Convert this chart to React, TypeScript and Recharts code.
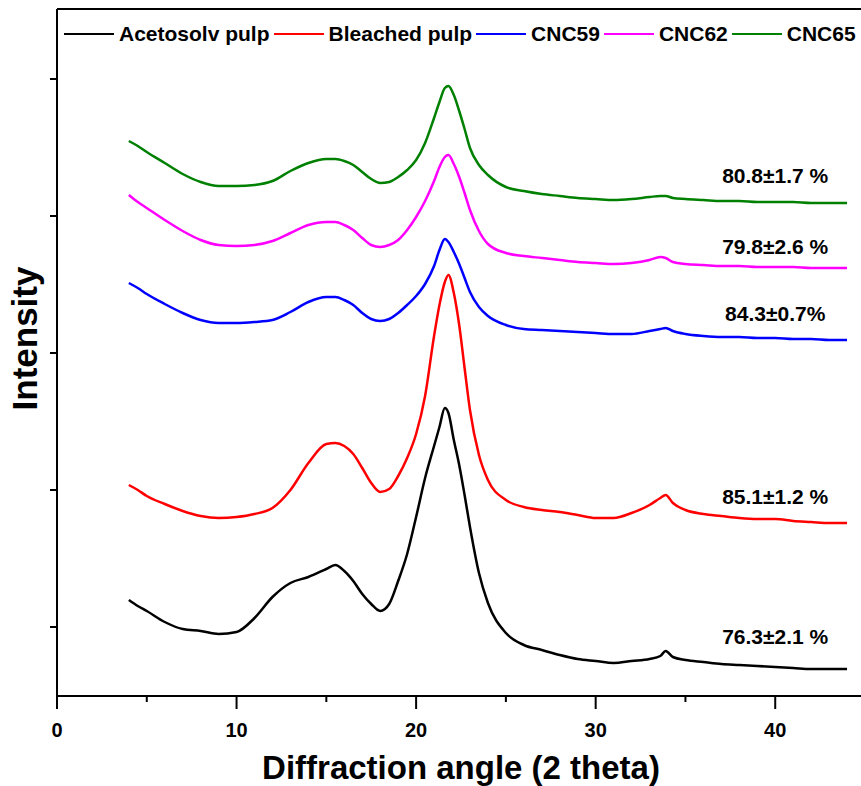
import {
	LineChart,
	Line,
	XAxis,
	YAxis,
	Legend,
	ReferenceDot,
	ReferenceLine,
} from "recharts";

const FONT = "'Liberation Sans', Arial, Helvetica, sans-serif";

// 2 theta (degrees)
const twoTheta = [
	4, 4.5, 5, 6, 7, 8, 9, 10, 11, 12, 13, 14, 15, 15.5, 16, 16.5, 17, 17.5, 18,
	18.5, 19, 19.5, 20, 20.5, 21, 21.3, 21.6, 21.8, 22.1, 22.4, 22.7, 23, 23.5,
	24, 25, 26, 27, 28, 29, 30, 31, 32, 33, 33.6, 33.9, 34.3, 35, 36, 37, 38, 39,
	40, 41, 42, 43, 44,
];

// intensity (a.u., curves stacked with offsets as in the figure)
const acetosolv = [
	960, 900, 850, 740, 670, 650, 620, 640, 780, 990, 1130, 1190, 1270, 1310,
	1250, 1150, 1020, 920, 850, 920, 1150, 1420, 1790, 2180, 2500, 2690, 2880,
	2830, 2560, 2310, 2010, 1690, 1230, 930, 630, 510, 460, 410, 370, 350, 330,
	350, 370, 400, 450, 390, 360, 340, 320, 310, 300, 290, 280, 270, 270, 270,
];
const bleached = [
	2110, 2060, 2000, 1920, 1850, 1800, 1780, 1790, 1820, 1880, 2060, 2330, 2520,
	2530, 2500, 2420, 2280, 2130, 2040, 2070, 2200, 2380, 2620, 3000, 3600, 3910,
	4140, 4210, 4030, 3710, 3280, 2860, 2410, 2160, 1960, 1890, 1860, 1840, 1810,
	1780, 1780, 1830, 1910, 1980, 2010, 1930, 1860, 1820, 1800, 1780, 1770, 1770,
	1750, 1740, 1730, 1730,
];
const cnc59 = [
	4130, 4080, 4020, 3920, 3830, 3760, 3730, 3730, 3740, 3760, 3840, 3940, 3990,
	3990, 3960, 3910, 3830, 3770, 3750, 3770, 3830, 3910, 4000, 4120, 4300, 4460,
	4570, 4540, 4440, 4320, 4180, 4040, 3890, 3800, 3710, 3670, 3660, 3650, 3640,
	3630, 3620, 3620, 3650, 3670, 3680, 3650, 3620, 3600, 3590, 3590, 3580, 3580,
	3570, 3570, 3560, 3560,
];
const cnc62 = [
	5010, 4940, 4880, 4760, 4650, 4560, 4510, 4500, 4510, 4550, 4630, 4710, 4740,
	4740, 4710, 4660, 4580, 4510, 4490, 4510, 4560, 4660, 4790, 4950, 5150, 5290,
	5390, 5410, 5320, 5190, 5030, 4860, 4650, 4520, 4430, 4400, 4380, 4360, 4340,
	4330, 4320, 4330, 4360, 4390, 4380, 4340, 4320, 4310, 4300, 4300, 4290, 4290,
	4290, 4280, 4280, 4280,
];
const cnc65 = [
	5550, 5500, 5440, 5330, 5220, 5140, 5100, 5100, 5110, 5150, 5250, 5330, 5370,
	5370, 5350, 5310, 5240, 5170, 5130, 5140, 5190, 5260, 5360, 5530, 5780, 5940,
	6080, 6100, 6010, 5850, 5670, 5480, 5310, 5210, 5090, 5050, 5020, 5000, 4980,
	4970, 4960, 4970, 4990, 5000, 5000, 4980, 4970, 4960, 4950, 4950, 4940, 4940,
	4940, 4930, 4930, 4930,
];

// crystallinity index labels and where they sit
const crystallinity = ["76.3±2.1 %", "85.1±1.2 %", "84.3±0.7%", "79.8±2.6 %", "80.8±1.7 %"];
const labelLevel = [590, 1990, 3820, 4490, 5200];
const labelAngle = 40;

const xTicks = [0, 5, 10, 15, 20, 25, 30, 35, 40];
const yTicks = [690, 2060, 3430, 4800, 6170];
const yMax = 6870;

const data = twoTheta.map((t, i) => ({
	theta: t,
	acetosolv: acetosolv[i],
	bleached: bleached[i],
	cnc59: cnc59[i],
	cnc62: cnc62[i],
	cnc65: cnc65[i],
}));

const series = [
	{ key: "acetosolv", name: "Acetosolv pulp", color: "#000000" },
	{ key: "bleached", name: "Bleached pulp", color: "#ff0000" },
	{ key: "cnc59", name: "CNC59", color: "#0000ff" },
	{ key: "cnc62", name: "CNC62", color: "#ff00ff" },
	{ key: "cnc65", name: "CNC65", color: "#008000" },
];

function XTick(props: any) {
	const { x, y, payload } = props;
	const major = payload.value % 10 === 0;
	return (
		<g>
			<line x1={x} x2={x} y1={y} y2={y + (major ? 13 : 6)} stroke="#000" strokeWidth={2} />
			{major && (
				<text
					x={x}
					y={y + 41}
					textAnchor="middle"
					fontFamily={FONT}
					fontWeight="bold"
					fontSize={20}
					fill="#000"
				>
					{payload.value}
				</text>
			)}
		</g>
	);
}

function renderLegend(props: any) {
	const { payload = [] } = props;
	return (
		<div
			style={{
				display: "flex",
				alignItems: "center",
				whiteSpace: "nowrap",
				fontFamily: FONT,
				fontWeight: "bold",
				fontSize: 21,
				color: "#000",
			}}
		>
			{payload.map((p: any) => (
				<div key={p.value} style={{ display: "flex", alignItems: "center" }}>
					<span
						style={{
							display: "inline-block",
							width: 50,
							height: 2,
							background: p.color,
							marginRight: 5,
						}}
					/>
					<span style={{ marginRight: 4 }}>{p.value}</span>
				</div>
			))}
		</div>
	);
}

export default function App() {
	return (
		<div
			style={{
				position: "absolute",
				top: 0,
				left: 0,
				width: 861,
				height: 786,
				overflow: "hidden",
				background: "#fff",
				fontFamily: FONT,
			}}
		>
			<LineChart
				width={870}
				height={786}
				data={data}
				margin={{ top: 9, right: 5, bottom: 0, left: 0 }}
			>
				<XAxis
					dataKey="theta"
					type="number"
					domain={[0, 45]}
					ticks={xTicks}
					interval={0}
					height={90}
					tickSize={0}
					tickMargin={0}
					tickLine={false}
					tick={<XTick />}
					axisLine={{ stroke: "#000", strokeWidth: 2 }}
					allowDataOverflow
					label={{
						content: ({ viewBox }: any) => (
							<text
								x={viewBox.x + viewBox.width / 2}
								y={viewBox.y + 83}
								textAnchor="middle"
								fontFamily={FONT}
								fontWeight="bold"
								fontSize={33}
								fill="#000"
							>
								Diffraction angle (2 theta)
							</text>
						),
					}}
				/>
				<YAxis
					type="number"
					domain={[0, yMax]}
					ticks={yTicks}
					width={57}
					tickSize={7}
					tickFormatter={() => ""}
					tickLine={{ stroke: "#000", strokeWidth: 2 }}
					axisLine={{ stroke: "#000", strokeWidth: 2 }}
					allowDataOverflow
					label={{
						content: ({ viewBox }: any) => {
							const cx = viewBox.x + 37;
							const cy = viewBox.y + viewBox.height / 2 - 14;
							return (
								<text
									transform={`translate(${cx},${cy}) rotate(-90)`}
									textAnchor="middle"
									fontFamily={FONT}
									fontWeight="bold"
									fontSize={35}
									fill="#000"
								>
									Intensity
								</text>
							);
						},
					}}
				/>
				<ReferenceLine y={yMax} stroke="#000" strokeWidth={2} />
				<Legend
					verticalAlign="middle"
					align="center"
					layout="horizontal"
					content={renderLegend}
					wrapperStyle={{ position: "absolute", top: 22, left: 64, width: "auto", height: "auto" }}
				/>
				{series.map((s) => (
					<Line
						key={s.key}
						type="monotone"
						dataKey={s.key}
						name={s.name}
						stroke={s.color}
						strokeWidth={2.5}
						dot={false}
						activeDot={false}
						isAnimationActive={false}
					/>
				))}
				{crystallinity.map((text, i) => (
					<ReferenceDot
						key={text}
						x={labelAngle}
						y={labelLevel[i]}
						r={1}
						fill="none"
						stroke="none"
						label={{
							value: text,
							position: "center",
							fill: "#000",
							fontSize: 21,
							fontWeight: "bold",
							fontFamily: FONT,
						}}
					/>
				))}
			</LineChart>
		</div>
	);
}
